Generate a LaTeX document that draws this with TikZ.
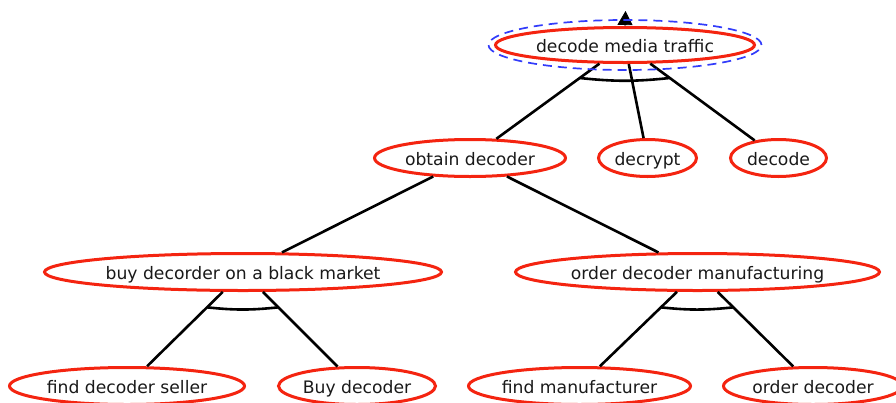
\documentclass[tikz,border=0pt]{standalone}
\usepackage{fontspec}
\setmainfont{DejaVu Sans}
\usetikzlibrary{shapes.geometric,calc,arrows.meta}

\definecolor{goalred}{RGB}{244,36,16}
\definecolor{markblue}{RGB}{50,60,250}
\definecolor{labelgray}{RGB}{25,25,25}

\tikzset{
  goal/.style={ellipse, draw=goalred, line width=3pt, inner sep=0pt,
    minimum height=37pt, text=labelgray, text height=14pt, text depth=0pt,
    font=\fontsize{17.2}{20}\selectfont},
  conn/.style={draw=black, line width=2.6pt},
  andarc/.style={draw=black, line width=2.6pt},
  rootmark/.style={ellipse, draw=markblue, line width=1.7pt,
    dash pattern=on 9pt off 6pt, inner sep=0pt},
}

\begin{document}
\begin{tikzpicture}[x=1pt,y=-1pt]
  \useasboundingbox (0,0) rectangle (896,402);

  % goal tree
  \node[goal, minimum width=259pt, minimum height=35pt] (top) at (625,45) {decode media traffic};

  \node[goal, minimum width=191pt] (obtain)  at (470,158)   {obtain decoder};
  \node[goal, minimum width=98pt]  (decrypt) at (647.5,158) {decrypt};
  \node[goal, minimum width=96pt]  (decode)  at (778.5,158) {decode};

  \node[goal, minimum width=397pt] (black)   at (243,272)   {buy decorder on a black market};
  \node[goal, minimum width=364pt] (manuf)   at (697.5,272) {order decoder manufacturing};

  \node[goal, minimum width=235pt] (seller)  at (127,386)   {find decoder seller};
  \node[goal, minimum width=157pt] (buydec)  at (357,386)   {Buy decoder};
  \node[goal, minimum width=222pt] (findmf)  at (579.5,386) {find manufacturer};
  \node[goal, minimum width=179pt] (orddec)  at (813,386)   {order decoder};

  % refinements
  \draw[conn] (top) -- (obtain);
  \draw[conn] (top) -- (decrypt);
  \draw[conn] (top) -- (decode);

  \draw[conn] (obtain) -- (black);
  \draw[conn] (obtain) -- (manuf);

  \draw[conn] (black) -- (seller);
  \draw[conn] (black) -- (buydec);

  \draw[conn] (manuf) -- (findmf);
  \draw[conn] (manuf) -- (orddec);

  % AND-decomposition arcs
  \draw[andarc] ($(top)!0.292!(obtain)$) to[bend right=6] ($(top)!0.292!(decode)$);
  \draw[andarc] ($(black)!0.31!(seller)$) to[bend right=6] ($(black)!0.31!(buydec)$);
  \draw[andarc] ($(manuf)!0.31!(findmf)$) to[bend right=6] ($(manuf)!0.31!(orddec)$);

  % root goal marker
  \coordinate (goaltip) at (625.5,11);
  \draw[line width=0.8pt, -{Triangle[length=14pt,width=15pt]}] (top.north) -- (goaltip);
  \node[rootmark, minimum width=273pt, minimum height=50pt] (rootring) at (625,45) {};
\end{tikzpicture}
\end{document}
